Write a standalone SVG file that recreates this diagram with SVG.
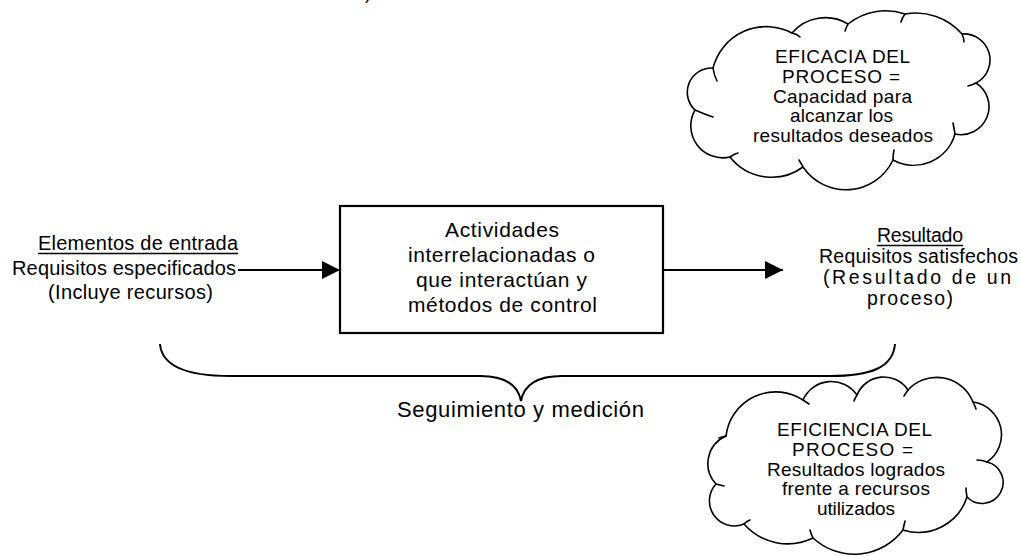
<svg xmlns="http://www.w3.org/2000/svg" width="1021" height="556" viewBox="0 0 1021 556">
<style>
text{font-family:"Liberation Sans",Arial,sans-serif;fill:#000}
.l{font-size:20px}
.b{font-size:21px}
.r{font-size:19.5px}
.c{font-size:19px}
.s{font-size:22px}
.ln{stroke:#000;stroke-width:2;fill:none}
.cl{stroke:#000;stroke-width:1.6;fill:#fff;stroke-linejoin:round}
.tk{stroke:#000;stroke-width:1.6;fill:none;stroke-linecap:round}
.ul{stroke:#000;stroke-width:1.4}
</style>
<defs>
<marker id="ah" markerUnits="userSpaceOnUse" markerWidth="18" markerHeight="18" refX="18" refY="9" orient="auto">
<path d="M0,0 L18,9 L0,18 Z" fill="#000"/>
</marker>
</defs>
<rect width="1021" height="556" fill="#fff"/>
<text x="365" y="-1" font-size="18">)</text>

<g id="entrada">
<text class="l" x="38" y="250" textLength="200" lengthAdjust="spacing">Elementos de entrada</text>
<line class="ul" x1="38" y1="253.5" x2="238" y2="253.5"/>
<text class="l" x="12" y="275" textLength="224" lengthAdjust="spacing">Requisitos especificados</text>
<text class="l" x="48" y="299" textLength="165" lengthAdjust="spacing">(Incluye recursos)</text>
</g>

<g id="actividades">
<rect x="340" y="206" width="323" height="127" fill="#fff" stroke="#000" stroke-width="2.2"/>
<text class="b" x="445" y="237" textLength="114" lengthAdjust="spacing">Actividades</text>
<text class="b" x="408" y="262" textLength="187" lengthAdjust="spacing">interrelacionadas o</text>
<text class="b" x="416" y="287" textLength="171" lengthAdjust="spacing">que interactúan y</text>
<text class="b" x="408" y="312" textLength="189" lengthAdjust="spacing">métodos de control</text>
</g>

<g id="resultado">
<text class="r" x="877" y="242" textLength="86" lengthAdjust="spacing">Resultado</text>
<line class="ul" x1="877" y1="245.5" x2="963" y2="245.5"/>
<text class="r" x="819" y="263" textLength="199" lengthAdjust="spacing">Requisitos satisfechos</text>
<text class="r" x="823" y="284" textLength="188" lengthAdjust="spacing">(Resultado de un</text>
<text class="r" x="867" y="305" textLength="86" lengthAdjust="spacing">proceso)</text>
</g>

<g id="seguimiento">
<path class="ln" d="M160,344 C162,368 190,376 230,376 L480,376 C505,376 518,385 521,401 C524,385 537,376 562,376 L830,376 C870,376 893,368 895,344"/>
<text class="s" x="397" y="417" textLength="247" lengthAdjust="spacing">Seguimiento y medición</text>
</g>

<g id="eficacia">
<path class="cl" d="M713,68 A55,55 0 0 1 792,33 A44,44 0 0 1 848,24 A60,60 0 0 1 905,14 A61,61 0 0 1 962,34 A26,26 0 0 1 976,83 A28,28 0 0 1 955,134 A43,43 0 0 1 893,160 A52,52 0 0 1 803,167 A53,53 0 0 1 730,157 A32,32 0 0 1 695,110 A24.3,24.3 0 0 1 713,68 Z"/>
<path class="tk" d="M713,68 Q714,75 717,81 M792,33 Q797,34 800,37 M848,24 Q846,28 845,31 M905,14 Q902,18 901,22 M962,34 Q964,38 964,42 M976,83 Q972,85 968,86 M955,134 Q954,128 953,123 M893,160 Q893,155 894,150 M803,167 Q801,163 799,160 M730,157 Q734,154 738,153 M695,110 Q704,114 713,117"/>
<text class="c" x="775" y="63" textLength="135" lengthAdjust="spacing">EFICACIA DEL</text>
<text class="c" x="782" y="82.75" textLength="118" lengthAdjust="spacing">PROCESO =</text>
<text class="c" x="773" y="102.5" textLength="139" lengthAdjust="spacing">Capacidad para</text>
<text class="c" x="790" y="122.25" textLength="103" lengthAdjust="spacing">alcanzar los</text>
<text class="c" x="753" y="142" textLength="180" lengthAdjust="spacing">resultados deseados</text>
</g>

<g id="eficiencia">
<path class="cl" d="M726,436 A50,50 0 0 1 803,400 A31,31 0 0 1 857,395 A29,29 0 0 1 908,390 A39,39 0 0 1 973,402 A33,33 0 0 1 987,462 A21,21 0 1 1 967,497 A51,51 0 0 1 903,530 A61,61 0 0 1 813,538 A58,58 0 0 1 744,524 A25,25 0 0 1 716,484 A30,30 0 0 1 726,436 Z"/>
<path class="tk" d="M726,436 Q722,437 719,438 M803,400 Q806,402 809,404 M857,395 Q855,398 854,401 M908,390 Q906,393 904,396 M973,402 Q975,406 976,409 M987,462 Q982,460 977,460 M967,497 Q966,492 966,488 M903,530 Q904,525 905,521 M813,538 Q811,534 810,530 M744,524 Q747,521 750,520 M716,484 Q720,485 724,486"/>
<text class="c" x="777" y="436" textLength="155" lengthAdjust="spacing">EFICIENCIA DEL</text>
<text class="c" x="792" y="455.75" textLength="121" lengthAdjust="spacing">PROCESO =</text>
<text class="c" x="767" y="475.5" textLength="178" lengthAdjust="spacing">Resultados logrados</text>
<text class="c" x="782" y="495.25" textLength="148" lengthAdjust="spacing">frente a recursos</text>
<text class="c" x="817" y="515" textLength="78" lengthAdjust="spacing">utilizados</text>
</g>

<g id="connectors">
<line class="ln" x1="238" y1="270" x2="340" y2="270" marker-end="url(#ah)"/>
<line class="ln" x1="663" y1="270" x2="783" y2="270" marker-end="url(#ah)"/>
</g>
</svg>
